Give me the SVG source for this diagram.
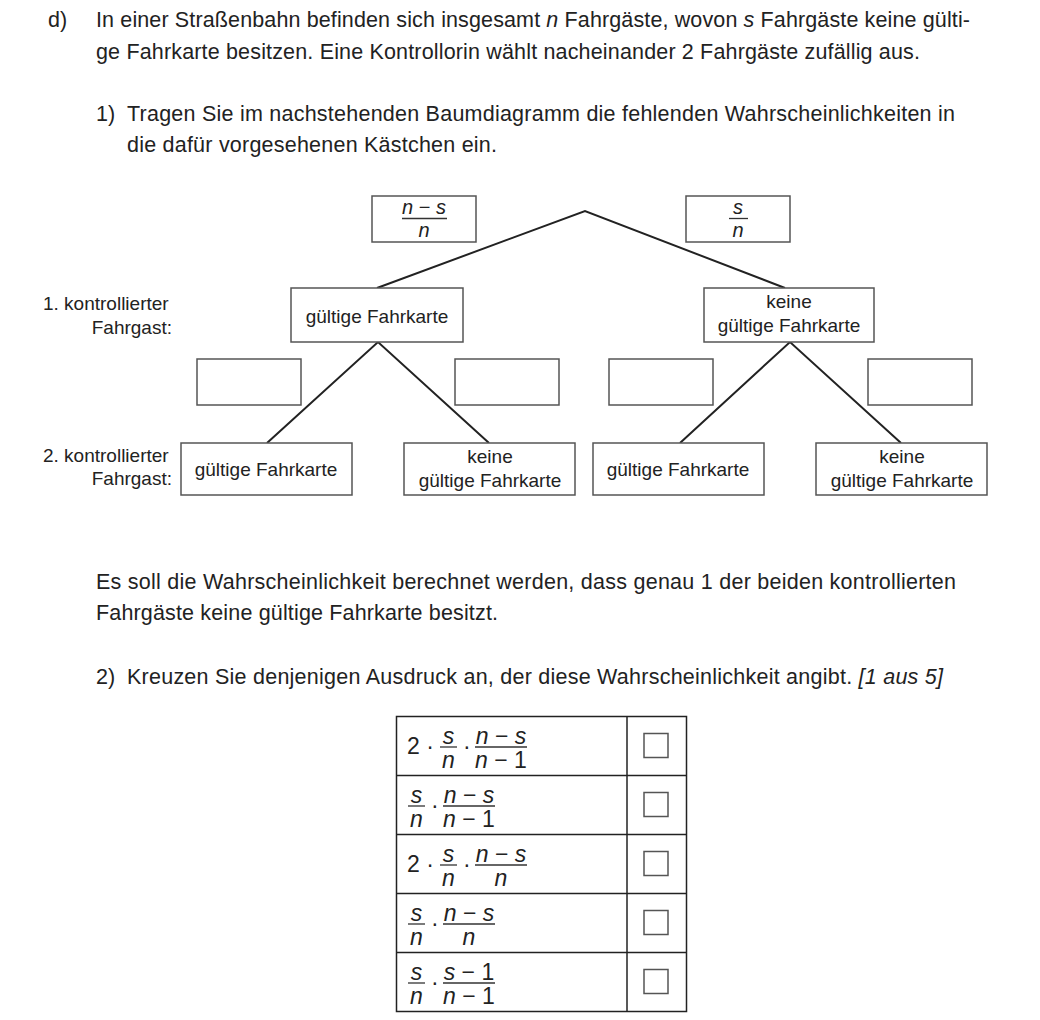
<svg xmlns="http://www.w3.org/2000/svg" width="1040" height="1020" viewBox="0 0 1040 1020">
<style>
text{font-family:"Liberation Sans",Arial,sans-serif;fill:#222}
.p{font-size:21.5px}
.t{font-size:19px}
.m{font-size:20px}
.mt{font-size:23px}
.i{font-style:italic}
.box{fill:#fff;stroke:#555;stroke-width:1.5}
.ln{stroke:#222;stroke-width:2;fill:none}
.bar{stroke:#333;stroke-width:1.3}
.c{text-anchor:middle}
.r{text-anchor:end}
</style>
<rect width="1040" height="1020" fill="#fff"/>
<g id="text-top">
<text class="p" x="48" y="27">d)</text>
<text class="p" x="96" y="27" textLength="874" lengthAdjust="spacing">In einer Straßenbahn befinden sich insgesamt <tspan class="i">n</tspan> Fahrgäste, wovon <tspan class="i">s</tspan> Fahrgäste keine gülti-</text>
<text class="p" x="96" y="59" textLength="824" lengthAdjust="spacing">ge Fahrkarte besitzen. Eine Kontrollorin wählt nacheinander 2 Fahrgäste zufällig aus.</text>
<text class="p" x="96" y="121">1)</text>
<text class="p" x="127" y="121" textLength="828" lengthAdjust="spacing">Tragen Sie im nachstehenden Baumdiagramm die fehlenden Wahrscheinlichkeiten in</text>
<text class="p" x="127" y="152" textLength="370" lengthAdjust="spacing">die dafür vorgesehenen Kästchen ein.</text>
</g>
<g id="connectors">
<polyline class="ln" points="377,288 585,211 785,288"/>
<polyline class="ln" points="267,443 378,342 489,443"/>
<polyline class="ln" points="680,443 790,342 901,443"/>
</g>
<g id="prob-ns">
<rect class="box" x="372" y="196" width="104" height="46"/>
<text class="m c" x="424" y="214"><tspan class="i">n</tspan> − <tspan class="i">s</tspan></text>
<line class="bar" x1="402" y1="218.5" x2="447" y2="218.5"/>
<text class="m c i" x="424" y="237">n</text>
</g>
<g id="prob-sn">
<rect class="box" x="686" y="196" width="104" height="46"/>
<text class="m c i" x="738" y="214">s</text>
<line class="bar" x1="729" y1="218.5" x2="748" y2="218.5"/>
<text class="m c i" x="738" y="237">n</text>
</g>
<g id="label-1">
<text class="t" x="43" y="310">1. kontrollierter</text>
<text class="t r" x="172" y="334">Fahrgast:</text>
</g>
<g id="node-1-g">
<rect class="box" x="291" y="288" width="172" height="54"/>
<text class="t c" x="377" y="323">gültige Fahrkarte</text>
</g>
<g id="node-1-k">
<rect class="box" x="704" y="288" width="170" height="54"/>
<text class="t c" x="789" y="308">keine</text>
<text class="t c" x="789" y="332">gültige Fahrkarte</text>
</g>
<g id="prob-boxes">
<rect class="box" x="197" y="359" width="104" height="46"/>
<rect class="box" x="455" y="359" width="104" height="46"/>
<rect class="box" x="609" y="359" width="104" height="46"/>
<rect class="box" x="868" y="359" width="104" height="46"/>
</g>
<g id="label-2">
<text class="t" x="43" y="462">2. kontrollierter</text>
<text class="t r" x="172" y="485">Fahrgast:</text>
</g>
<g id="node-2-gg">
<rect class="box" x="181" y="443" width="171" height="52"/>
<text class="t c" x="266" y="476">gültige Fahrkarte</text>
</g>
<g id="node-2-gk">
<rect class="box" x="404" y="443" width="171" height="52"/>
<text class="t c" x="490" y="463">keine</text>
<text class="t c" x="490" y="487">gültige Fahrkarte</text>
</g>
<g id="node-2-kg">
<rect class="box" x="593" y="443" width="171" height="52"/>
<text class="t c" x="678" y="476">gültige Fahrkarte</text>
</g>
<g id="node-2-kk">
<rect class="box" x="816" y="443" width="171" height="52"/>
<text class="t c" x="902" y="463">keine</text>
<text class="t c" x="902" y="487">gültige Fahrkarte</text>
</g>
<g id="text-mid">
<text class="p" x="96" y="589" textLength="860" lengthAdjust="spacing">Es soll die Wahrscheinlichkeit berechnet werden, dass genau 1 der beiden kontrollierten</text>
<text class="p" x="96" y="620" textLength="402" lengthAdjust="spacing">Fahrgäste keine gültige Fahrkarte besitzt.</text>
<text class="p" x="96" y="684">2)</text>
<text class="p" x="127" y="684" textLength="816" lengthAdjust="spacing">Kreuzen Sie denjenigen Ausdruck an, der diese Wahrscheinlichkeit angibt. <tspan class="i">[1 aus 5]</tspan></text>
</g>
<g id="table">
<rect x="396.5" y="716.5" width="290" height="295" fill="none" stroke="#222" stroke-width="1.5"/>
<line x1="627" y1="716" x2="627" y2="1012" stroke="#222" stroke-width="1.5"/>
<line x1="396" y1="775.5" x2="686" y2="775.5" stroke="#222" stroke-width="1.5"/>
<line x1="396" y1="834.5" x2="686" y2="834.5" stroke="#222" stroke-width="1.5"/>
<line x1="396" y1="893.5" x2="686" y2="893.5" stroke="#222" stroke-width="1.5"/>
<line x1="396" y1="952.5" x2="686" y2="952.5" stroke="#222" stroke-width="1.5"/>
<rect class="box" x="644" y="733.5" width="24" height="24"/>
<rect class="box" x="644" y="792.5" width="24" height="24"/>
<rect class="box" x="644" y="851.5" width="24" height="24"/>
<rect class="box" x="644" y="910.5" width="24" height="24"/>
<rect class="box" x="644" y="969.5" width="24" height="24"/>
<!-- row 1 -->
<text class="mt" x="407" y="754">2 ·</text>
<text class="mt c i" x="448.5" y="744">s</text>
<line class="bar" x1="440" y1="747" x2="457" y2="747"/>
<text class="mt c i" x="448.5" y="768">n</text>
<text class="mt" x="463" y="754">·</text>
<text class="mt c" x="501" y="744"><tspan class="i">n</tspan> − <tspan class="i">s</tspan></text>
<line class="bar" x1="475" y1="747" x2="527" y2="747"/>
<text class="mt c" x="501" y="768"><tspan class="i">n</tspan> − 1</text>
<!-- row 2 -->
<text class="mt c i" x="416.5" y="803">s</text>
<line class="bar" x1="408" y1="806" x2="425" y2="806"/>
<text class="mt c i" x="416.5" y="827">n</text>
<text class="mt" x="431" y="813">·</text>
<text class="mt c" x="469" y="803"><tspan class="i">n</tspan> − <tspan class="i">s</tspan></text>
<line class="bar" x1="443" y1="806" x2="495" y2="806"/>
<text class="mt c" x="469" y="827"><tspan class="i">n</tspan> − 1</text>
<!-- row 3 -->
<text class="mt" x="407" y="872">2 ·</text>
<text class="mt c i" x="448.5" y="862">s</text>
<line class="bar" x1="440" y1="865" x2="457" y2="865"/>
<text class="mt c i" x="448.5" y="886">n</text>
<text class="mt" x="463" y="872">·</text>
<text class="mt c" x="501" y="862"><tspan class="i">n</tspan> − <tspan class="i">s</tspan></text>
<line class="bar" x1="475" y1="865" x2="527" y2="865"/>
<text class="mt c i" x="501" y="886">n</text>
<!-- row 4 -->
<text class="mt c i" x="416.5" y="921">s</text>
<line class="bar" x1="408" y1="924" x2="425" y2="924"/>
<text class="mt c i" x="416.5" y="945">n</text>
<text class="mt" x="431" y="931">·</text>
<text class="mt c" x="469" y="921"><tspan class="i">n</tspan> − <tspan class="i">s</tspan></text>
<line class="bar" x1="443" y1="924" x2="495" y2="924"/>
<text class="mt c i" x="469" y="945">n</text>
<!-- row 5 -->
<text class="mt c i" x="416.5" y="980">s</text>
<line class="bar" x1="408" y1="983" x2="425" y2="983"/>
<text class="mt c i" x="416.5" y="1004">n</text>
<text class="mt" x="431" y="990">·</text>
<text class="mt c" x="469" y="980"><tspan class="i">s</tspan> − 1</text>
<line class="bar" x1="443" y1="983" x2="495" y2="983"/>
<text class="mt c" x="469" y="1004"><tspan class="i">n</tspan> − 1</text>
</g>
</svg>
